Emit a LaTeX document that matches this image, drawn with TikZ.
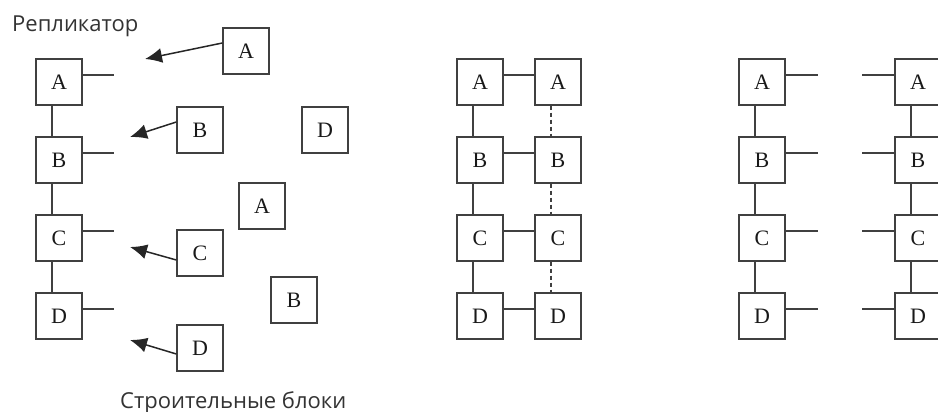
\documentclass[tikz,border=0pt]{standalone}
\usepackage{fontspec}
\setmainfont{Liberation Serif}
\newfontfamily\labelfont{Open Sans}
\usetikzlibrary{arrows.meta}

\tikzset{
  blk/.style={draw=black!75, line width=1.4pt, minimum size=46pt, inner sep=0pt,
              font=\fontsize{22}{22}\selectfont, text=black!90},
  link/.style={draw=black!75, line width=1.3pt},
  dlink/.style={link, dash pattern=on 4pt off 3pt},
  pull/.style={draw=black!85, line width=1.5pt, -{Latex[length=17pt,width=15pt]}},
  caption/.style={font=\labelfont\fontsize{22}{22}\selectfont, text=black!80, inner sep=0pt, anchor=base west}
}

\begin{document}
\begin{tikzpicture}[x=1pt, y=-1pt]
\useasboundingbox (0,0) rectangle (938,412);
\clip (0,0) rectangle (938,412);

% ---- replicator with free building blocks ----
\node[caption] (rep) at (12,32) {Репликатор};
\node[caption] (bricks) at (120,408) {Строительные блоки};

\node[blk] (A1) at (59,82) {A};
\node[blk] (B1) at (59,160) {B};
\node[blk] (C1) at (59,238) {C};
\node[blk] (D1) at (59,316) {D};
\foreach \u/\v in {A1/B1, B1/C1, C1/D1}
  \draw[link] ([xshift=-7pt]\u.south) -- ([xshift=-7pt]\v.north);
\foreach \n in {A1,B1,C1,D1} {
  \coordinate (s\n) at ([xshift=31pt, yshift=7pt]\n.east);
  \draw[link] ([yshift=7pt]\n.east) -- (s\n);
}

\node[blk] (fA) at (246,51) {A};
\node[blk] (fB) at (200,130) {B};
\node[blk] (fD) at (325,130) {D};
\node[blk] (fA2) at (262,206) {A};
\node[blk] (fC) at (200,253) {C};
\node[blk] (fB2) at (294,300) {B};
\node[blk] (fD2) at (200,348) {D};

\coordinate (tA) at (145,59);
\coordinate (tB) at (130,137);
\coordinate (tC) at (130,247);
\coordinate (tD) at (130,340);
\draw[pull] ([yshift=8pt]fA.west) -- (tA);
\draw[pull] ([yshift=8pt]fB.west) -- (tB);
\draw[pull] ([yshift=-7pt]fC.west) -- (tC);
\draw[pull] ([yshift=-6pt]fD2.west) -- (tD);

% ---- blocks paired with the template ----
\foreach \n/\y in {A/82,B/160,C/238,D/316} {
  \node[blk] (m\n) at (480,\y) {\n};
  \node[blk] (k\n) at (558,\y) {\n};
  \draw[link] ([yshift=7pt]m\n.east) -- ([yshift=7pt]k\n.west);
}
\foreach \u/\v in {A/B, B/C, C/D} {
  \draw[link] ([xshift=-7pt]m\u.south) -- ([xshift=-7pt]m\v.north);
  \draw[dlink] ([xshift=-7pt]k\u.south) -- ([xshift=-7pt]k\v.north);
}

% ---- two complete copies after separation ----
\foreach \n/\y in {A/82,B/160,C/238,D/316} {
  \node[blk] (p\n) at (762,\y) {\n};
  \node[blk] (q\n) at (918,\y) {\n};
  \coordinate (sp\n) at ([xshift=32pt, yshift=7pt]p\n.east);
  \coordinate (sq\n) at ([xshift=-32pt, yshift=7pt]q\n.west);
  \draw[link] ([yshift=7pt]p\n.east) -- (sp\n);
  \draw[link] ([yshift=7pt]q\n.west) -- (sq\n);
}
\foreach \u/\v in {A/B, B/C, C/D} {
  \draw[link] ([xshift=-7pt]p\u.south) -- ([xshift=-7pt]p\v.north);
  \draw[link] ([xshift=-7pt]q\u.south) -- ([xshift=-7pt]q\v.north);
}
\end{tikzpicture}
\end{document}
